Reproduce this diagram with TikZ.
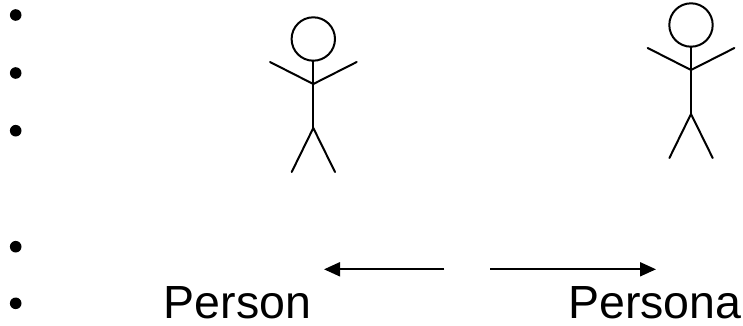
\documentclass[tikz,border=0pt]{standalone}
\usepackage{fontspec}
\setmainfont{Liberation Sans}
\usetikzlibrary{arrows.meta}
\begin{document}
\begin{tikzpicture}[x=1pt,y=-1pt,
  stick/.style={line width=2pt,line cap=round,line join=round},
  conn/.style={line width=2pt,-{Triangle[length=16pt,width=14pt]}},
  bul/.style={fill=black},
  lbl/.style={font=\fontsize{46.5}{54}\selectfont,inner sep=0pt,text depth=0pt,anchor=base west}]
\useasboundingbox (0,0) rectangle (743,325);
% bullets
\foreach \yy in {15,73,130.7,246.7,303.3}{\fill[bul] (15.7,\yy) circle (5.8);}
% stick figure 1
\begin{scope}[shift={(313.3,0)}]
  \draw[stick] (0,39) circle (21.7);
  \draw[stick] (0,60.7) -- (0,128);
  \draw[stick] (-43.3,62) -- (0,84) -- (43.4,62);
  \draw[stick] (-21.6,172) -- (0,128) -- (21.7,172);
\end{scope}
% stick figure 2
\begin{scope}[shift={(691,-14)}]
  \draw[stick] (0,39) circle (21.7);
  \draw[stick] (0,60.7) -- (0,128);
  \draw[stick] (-43.3,62) -- (0,84) -- (43.4,62);
  \draw[stick] (-21.6,172) -- (0,128) -- (21.7,172);
\end{scope}
% labels
\node[lbl] (person) at (163.6,318.5) {Person};
\node[lbl] (persona) at (568,318.5) {Persona};
% arrows
\coordinate (la) at (444.3,269.3);
\coordinate (lb) at (324,269.3);
\coordinate (ra) at (490,269.3);
\coordinate (rb) at (656,269.3);
\draw[conn] (la) -- (lb);
\draw[conn] (ra) -- (rb);
\end{tikzpicture}
\end{document}
